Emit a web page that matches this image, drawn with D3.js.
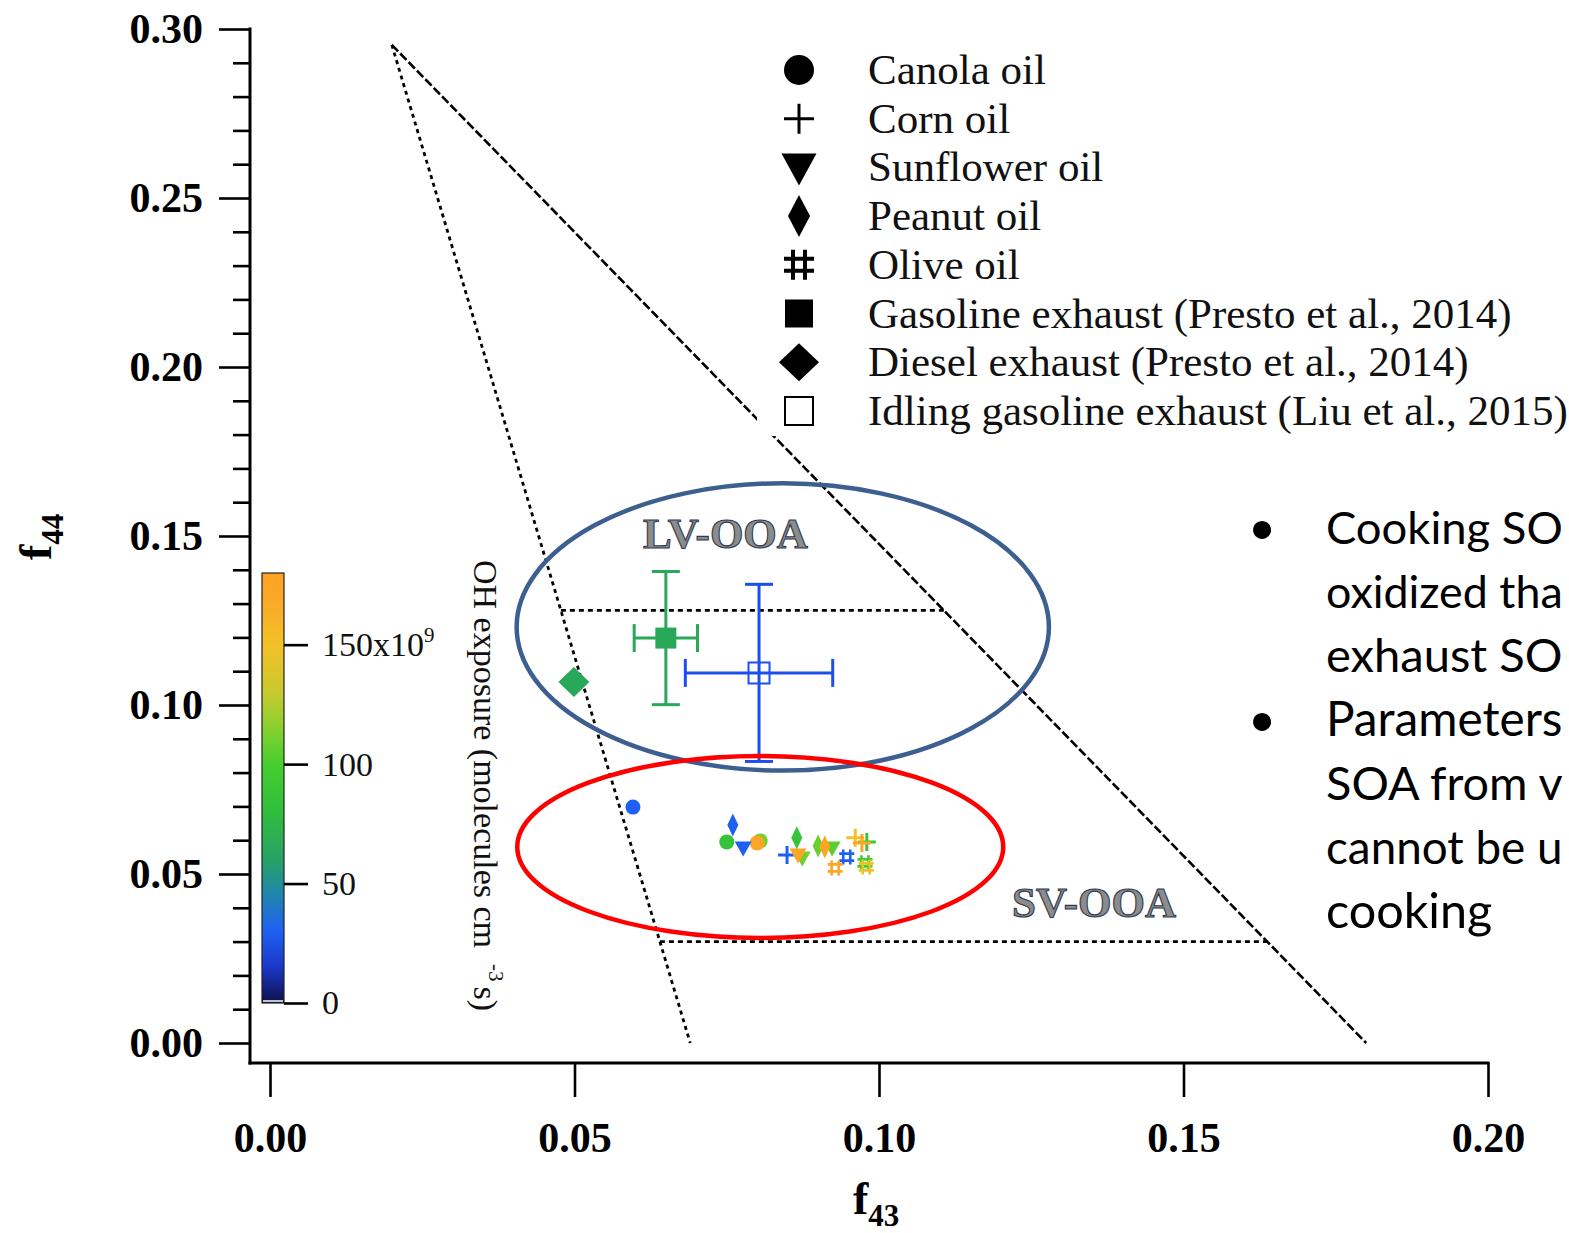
<!DOCTYPE html>
<html>
<head>
<meta charset="utf-8">
<script src="https://cdn.jsdelivr.net/npm/d3@7/dist/d3.min.js"></script>
<style>
  html, body { margin: 0; padding: 0; background: #fff; overflow: hidden; }
  svg { display: block; }
</style>
</head>
<body>
<svg id="chart" width="1569" height="1233"></svg>
<script>
// ---- data: [f43, f44, OH exposure (1e9 molecules cm-3 s)] ----
const canolaOil    = [[0.0596, 0.0698, 30], [0.0750, 0.0595, 85], [0.0805, 0.0598, 110], [0.0800, 0.0592, 175]];
const cornOil      = [[0.0849, 0.0556, 30], [0.0961, 0.0607, 150], [0.0980, 0.0595, 90], [0.0972, 0.0592, 175]];
const sunflowerOil = [[0.0777, 0.0577, 30], [0.0874, 0.0547, 110], [0.0867, 0.0556, 175], [0.0923, 0.0577, 105]];
const peanutOil    = [[0.0760, 0.0645, 30], [0.0865, 0.0607, 85], [0.0900, 0.0583, 108], [0.0911, 0.0580, 175]];
const oliveOil     = [[0.0947, 0.0550, 30], [0.0928, 0.0518, 175], [0.0977, 0.0533, 95], [0.0979, 0.0521, 145]];

// exhaust references: centre [f43, f44] and error half-widths [f43, f44]
const gasolineExhaust = [0.0650, 0.1198];
const gasolineError   = [0.0052, 0.0197];
const idlingExhaust   = [0.0803, 0.1095];
const idlingError     = [0.0121, 0.0262];
const dieselExhaust   = [0.0499, 0.1068];

// triangle region boundaries
const triangleApex   = [0.020, 0.2953];
const triangleLeftEnd  = [0.069, 0.0];
const triangleRightEnd = [0.180, 0.0];
const lvOoaLevel = 0.128;
const svOoaLevel = 0.030;

// highlighted regions: [centre f43, centre f44, half-width f43, half-height f44]
const exhaustRegion = [0.0842, 0.1231, 0.0437, 0.0425];
const cookingRegion = [0.0805, 0.0580, 0.0399, 0.0269];

// axes and colour scale
const xTicks = [0, 0.05, 0.10, 0.15, 0.20];
const yTicks = [0, 0.05, 0.10, 0.15, 0.20, 0.25, 0.30];
const yMinorTicks = d3.range(0, 31).map(i => i / 100).filter(v => Math.round(v * 100) % 5 !== 0);
const ohTicks = [0, 50, 100, 150];
const ohTickLabels = ["0", "50", "100", "150x10"];
const ohStops  = [0, 15, 30, 45, 60, 80, 100, 115, 130, 150, 165, 180];
const ohColors = ["#0c1048", "#1a38c8", "#1f60f2", "#2084b0", "#27a266", "#30bd3c", "#46cf2e",
                  "#88d030", "#c9c92e", "#f2c128", "#f8ae28", "#ffa024"];

const legendLabels = ["Canola oil", "Corn oil", "Sunflower oil", "Peanut oil", "Olive oil",
  "Gasoline exhaust (Presto et al., 2014)", "Diesel exhaust (Presto et al., 2014)",
  "Idling gasoline exhaust (Liu et al., 2015)"];

const noteLines = [
  {bullet: true,  text: "Cooking SO"},
  {bullet: false, text: "oxidized tha"},
  {bullet: false, text: "exhaust SO"},
  {bullet: true,  text: "Parameters"},
  {bullet: false, text: "SOA from v"},
  {bullet: false, text: "cannot be u"},
  {bullet: false, text: "cooking"}
];

// ---- scales ----
const x = d3.scaleLinear().domain([0, 0.2]).range([270, 1488]);
const y = d3.scaleLinear().domain([0, 0.3]).range([1043, 29]);
const ohColor = d3.scaleLinear().domain(ohStops).range(ohColors).interpolate(d3.interpolateRgb);
const ohY = d3.scaleLinear().domain([0, 180]).range([1003, 573]);

const svg = d3.select("#chart");
const SERIF = "'Liberation Serif', 'Times New Roman', serif";

// ---- marker shapes ----
const shapes = {
  circle: s => d3.symbol(d3.symbolCircle, Math.PI * s.r * s.r)(),
  plus: s => `M${-s.h},0H${s.h}M0,${-s.h}V${s.h}`,
  triDown: s => `M${-s.w},${-s.t}L${s.w},${-s.t}L0,${s.b}Z`,
  diamond: s => `M0,${-s.hh}L${s.hw},0L0,${s.hh}L${-s.hw},0Z`,
  hash: s => `M${-s.g},${-s.h}V${s.h}M${s.g},${-s.h}V${s.h}M${-s.h},${-s.g}H${s.h}M${-s.h},${s.g}H${s.h}`,
  square: s => `M${-s.a},${-s.a}H${s.a}V${s.a}H${-s.a}Z`
};
const stroked = {plus: true, hash: true};

const oilSeries = [
  {data: canolaOil,    shape: "circle",  plot: {r: 7.5}},
  {data: cornOil,      shape: "plus",    plot: {h: 9, sw: 3}},
  {data: sunflowerOil, shape: "triDown", plot: {w: 8.5, t: 6.5, b: 8.5}},
  {data: peanutOil,    shape: "diamond", plot: {hw: 5.5, hh: 11.5}},
  {data: oliveOil,     shape: "hash",    plot: {h: 7.5, g: 3.5, sw: 2.6}}
];

// ---- triangle guide lines ----
const lineAt = (p0, p1, level) => p0[0] + (level - p0[1]) / (p1[1] - p0[1]) * (p1[0] - p0[0]);
const guides = svg.append("g").attr("fill", "none").attr("stroke", "#000");
guides.append("line")
  .attr("x1", x(triangleApex[0])).attr("y1", y(triangleApex[1]))
  .attr("x2", x(triangleLeftEnd[0])).attr("y2", y(triangleLeftEnd[1]))
  .attr("stroke-width", 2.8).attr("stroke-dasharray", "4,4");
guides.append("line")
  .attr("x1", x(triangleApex[0])).attr("y1", y(triangleApex[1]))
  .attr("x2", x(triangleRightEnd[0])).attr("y2", y(triangleRightEnd[1]))
  .attr("stroke-width", 2.6).attr("stroke-dasharray", "9,3");
[lvOoaLevel, svOoaLevel].forEach(level => {
  guides.append("line")
    .attr("x1", x(lineAt(triangleApex, triangleLeftEnd, level))).attr("y1", y(level))
    .attr("x2", x(lineAt(triangleApex, triangleRightEnd, level))).attr("y2", y(level))
    .attr("stroke-width", 2.6).attr("stroke-dasharray", "5,4");
});

// region labels
const regionLabel = (txt, x0, yb) => svg.append("text")
  .attr("x", x0).attr("y", yb)
  .attr("font-family", SERIF).attr("font-size", 43).attr("font-weight", "bold")
  .attr("fill", "#8c8c8c").attr("stroke", "#2f3a50").attr("stroke-width", 1.1)
  .text(txt);
regionLabel("LV-OOA", 643, 548);
regionLabel("SV-OOA", 1012, 917);

// ---- exhaust references with error bars ----
function errorBars(c, e, colour) {
  const g = svg.append("g").attr("stroke", colour).attr("stroke-width", 3).attr("fill", "none");
  const cap = 14;
  g.append("line").attr("x1", x(c[0])).attr("x2", x(c[0])).attr("y1", y(c[1] - e[1])).attr("y2", y(c[1] + e[1]));
  g.append("line").attr("x1", x(c[0] - e[0])).attr("x2", x(c[0] + e[0])).attr("y1", y(c[1])).attr("y2", y(c[1]));
  [c[1] - e[1], c[1] + e[1]].forEach(v =>
    g.append("line").attr("x1", x(c[0]) - cap).attr("x2", x(c[0]) + cap).attr("y1", y(v)).attr("y2", y(v)));
  [c[0] - e[0], c[0] + e[0]].forEach(v =>
    g.append("line").attr("x1", x(v)).attr("x2", x(v)).attr("y1", y(c[1]) - cap).attr("y2", y(c[1]) + cap));
}
errorBars(gasolineExhaust, gasolineError, "#2aa85a");
svg.append("path").attr("d", shapes.square({a: 10.5}))
  .attr("transform", `translate(${x(gasolineExhaust[0])},${y(gasolineExhaust[1])})`)
  .attr("fill", "#2aa85a");
errorBars(idlingExhaust, idlingError, "#1c4ef0");
svg.append("path").attr("d", shapes.square({a: 10.5}))
  .attr("transform", `translate(${x(idlingExhaust[0])},${y(idlingExhaust[1])})`)
  .attr("fill", "none").attr("stroke", "#1c4ef0").attr("stroke-width", 2);
svg.append("path").attr("d", shapes.diamond({hw: 15.5, hh: 15}))
  .attr("transform", `translate(${x(dieselExhaust[0])},${y(dieselExhaust[1])})`)
  .attr("fill", "#2aa85a");

// ---- cooking oil SOA points coloured by OH exposure ----
oilSeries.forEach(s => {
  svg.append("g").selectAll("path").data(s.data).join("path")
    .attr("d", shapes[s.shape](s.plot))
    .attr("transform", d => `translate(${x(d[0])},${y(d[1])})`)
    .attr("fill", stroked[s.shape] ? "none" : d => ohColor(d[2]))
    .attr("stroke", stroked[s.shape] ? d => ohColor(d[2]) : "none")
    .attr("stroke-width", s.plot.sw || 0);
});

// ---- highlighted regions ----
[[exhaustRegion, "#3d5f8f"], [cookingRegion, "#ff0000"]].forEach(([r, c]) => {
  svg.append("ellipse")
    .attr("cx", x(r[0])).attr("cy", y(r[1]))
    .attr("rx", x(r[0] + r[2]) - x(r[0])).attr("ry", y(r[1] - r[3]) - y(r[1]))
    .attr("fill", "none").attr("stroke", c).attr("stroke-width", 4.5);
});

// ---- axes ----
const axisG = svg.append("g").attr("font-family", SERIF);
axisG.append("line").attr("x1", 250).attr("x2", 250).attr("y1", y(0.3) - 1.5).attr("y2", 1064.5)
  .attr("stroke", "#000").attr("stroke-width", 3);
axisG.append("line").attr("x1", 248.5).attr("x2", x(0.2) + 1.5).attr("y1", 1063).attr("y2", 1063)
  .attr("stroke", "#000").attr("stroke-width", 3);

const yMinor = axisG.append("g").attr("transform", "translate(250,0)")
  .call(d3.axisLeft(y).tickValues(yMinorTicks).tickSize(17).tickFormat(""));
const yMajor = axisG.append("g").attr("transform", "translate(250,0)")
  .call(d3.axisLeft(y).tickValues(yTicks).tickSize(31).tickPadding(16).tickFormat(d3.format(".2f")));
const xMajor = axisG.append("g").attr("transform", "translate(0,1063)")
  .call(d3.axisBottom(x).tickValues(xTicks).tickSize(34).tickFormat(d3.format(".2f")));
[yMinor, yMajor, xMajor].forEach(g => {
  g.select(".domain").remove();
  g.selectAll(".tick line").attr("stroke", "#000").attr("stroke-width", 2.6);
  g.selectAll(".tick text").attr("font-family", SERIF).attr("font-weight", "bold")
    .attr("font-size", 42).attr("fill", "#000");
});
xMajor.selectAll(".tick text").attr("y", 89).attr("dy", 0);

// axis titles
const xTitle = svg.append("text").attr("x", 853).attr("y", 1214)
  .attr("font-family", SERIF).attr("font-weight", "bold").attr("font-size", 46);
xTitle.append("tspan").text("f");
xTitle.append("tspan").attr("font-size", 31).attr("dy", 12).text("43");

const yTitle = svg.append("text").attr("transform", "translate(51,560) rotate(-90)")
  .attr("font-family", SERIF).attr("font-weight", "bold").attr("font-size", 46);
yTitle.append("tspan").text("f");
yTitle.append("tspan").attr("font-size", 31).attr("dy", 12).text("44");

// ---- OH exposure colour bar ----
const defs = svg.append("defs");
const grad = defs.append("linearGradient").attr("id", "ohGradient")
  .attr("x1", 0).attr("x2", 0).attr("y1", 1).attr("y2", 0);
d3.range(0, 181, 5).forEach(v =>
  grad.append("stop").attr("offset", v / 180).attr("stop-color", ohColor(v)));
const cb = svg.append("g");
cb.append("rect").attr("x", 262).attr("y", ohY(180)).attr("width", 22).attr("height", ohY(0) - ohY(180))
  .attr("fill", "url(#ohGradient)").attr("stroke", "#222").attr("stroke-width", 1.2);
cb.append("line").attr("x1", 263).attr("x2", 283).attr("y1", ohY(0) - 2).attr("y2", ohY(0) - 2)
  .attr("stroke", "#fff").attr("stroke-width", 1.5);
const cbAxis = cb.append("g").attr("transform", "translate(284,0)")
  .call(d3.axisRight(ohY).tickValues(ohTicks).tickSize(24).tickPadding(14)
    .tickFormat((d, i) => ohTickLabels[i]));
cbAxis.select(".domain").remove();
cbAxis.selectAll(".tick line").attr("stroke", "#000").attr("stroke-width", 2.6);
cbAxis.selectAll(".tick text").attr("font-family", SERIF).attr("font-size", 34).attr("fill", "#111");
cbAxis.selectAll(".tick text").filter(d => d === 150)
  .append("tspan").attr("font-size", 21).attr("dy", -14).text("9");

const cbTitle = svg.append("text").attr("transform", "translate(474,560) rotate(90)")
  .attr("font-family", SERIF).attr("font-size", 34).attr("fill", "#111");
cbTitle.append("tspan").text("OH exposure (molecules cm");
cbTitle.append("tspan").attr("font-size", 21).attr("dx", 16).attr("dy", -15).text("-3");
cbTitle.append("tspan").attr("dx", 5).attr("dy", 15).text("s)");

// ---- legend ----
const legend = svg.append("g");
legend.append("rect").attr("x", 757).attr("y", 40).attr("width", 812).attr("height", 396).attr("fill", "#fff");
const legendShapes = [
  {shape: "circle", s: {r: 15}}, {shape: "plus", s: {h: 15}, sw: 3},
  {shape: "triDown", s: {w: 17.5, t: 14, b: 18}}, {shape: "diamond", s: {hw: 11, hh: 21}},
  {shape: "hash", s: {h: 15, g: 6}, sw: 4}, {shape: "square", s: {a: 14}},
  {shape: "diamond", s: {hw: 20, hh: 19}}, {shape: "square", s: {a: 14}, open: true}
];
const legendY = i => 70 + i * 48.7;
legendLabels.forEach((label, i) => {
  const ls = legendShapes[i];
  legend.append("path").attr("d", shapes[ls.shape](ls.s))
    .attr("transform", `translate(799,${legendY(i)})`)
    .attr("fill", ls.sw || ls.open ? "none" : "#000")
    .attr("stroke", ls.sw || ls.open ? "#000" : "none")
    .attr("stroke-width", ls.sw || (ls.open ? 2 : 0));
  legend.append("text").attr("x", 868).attr("y", legendY(i) + 14)
    .attr("font-family", SERIF).attr("font-size", 43).attr("fill", "#111").text(label);
});

// ---- side notes (font shrunk where a line would run past the right margin) ----
const noteSize = 48.5;
const notes = svg.append("g").attr("font-family", "Lato, 'Open Sans', sans-serif").attr("font-size", noteSize).attr("fill", "#000");
const noteRight = 1563;
noteLines.forEach((n, i) => {
  const yb = 544 + i * 64;
  if (n.bullet) notes.append("text").attr("x", 1262).attr("y", yb).attr("text-anchor", "middle").text("\u2022");
  const t = notes.append("text").attr("x", 1326).attr("y", yb).text(n.text);
  const w = t.node().getComputedTextLength();
  if (1326 + w > noteRight) t.attr("font-size", Math.floor(noteSize * (noteRight - 1326) / w * 10) / 10);
});
</script>
</body>
</html>
